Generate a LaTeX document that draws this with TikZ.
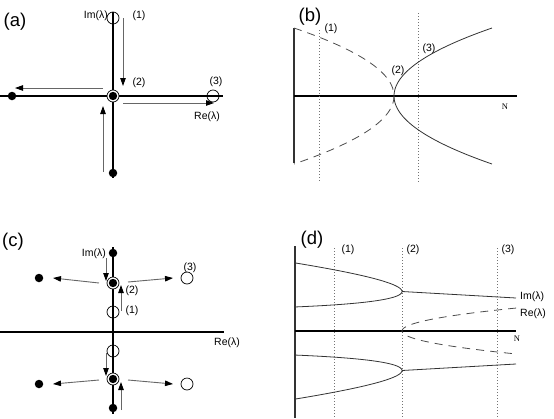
\documentclass[tikz,border=0pt]{standalone}
\usepackage{fontspec}
\setmainfont{Liberation Sans}
\newfontfamily\serifN{Liberation Serif}
\usetikzlibrary{arrows.meta}
\begin{document}
\begin{tikzpicture}[x=1pt,y=-1pt,
  axis/.style={line width=1.8pt,black},
  thinaxis/.style={line width=1.2pt,black!80},
  mv/.style={draw=black!60,line width=0.9pt,-{Triangle[length=8pt,width=5.5pt,color=black]}},
  hollow/.style={circle,draw,line width=0.7pt,minimum size=12pt,inner sep=0pt},
  full/.style={circle,fill=black,minimum size=8.5pt,inner sep=0pt},
  dbl/.style={circle,draw,line width=0.7pt,fill=white,minimum size=12pt,inner sep=0pt,
    path picture={\fill[black] (path picture bounding box.center) circle (4.2pt);}},
  curve/.style={line width=0.8pt,black!80},
  dashcurve/.style={curve,black!70,dash pattern=on 8pt off 6pt},
  guide/.style={black!55,line width=0.7pt,dash pattern=on 0.7pt off 2.3pt},
  lab/.style={font=\fontsize{10.5}{12}\selectfont,inner sep=0pt},
  big/.style={font=\fontsize{18.5}{20}\selectfont,inner sep=0pt},
  nlab/.style={font=\serifN\fontsize{8.5}{9}\selectfont,inner sep=0pt}
]
\useasboundingbox (0,0) rectangle (554,418);

% ---------------- (a)
\draw[axis] (0,96) -- (223,96);
\draw[axis] (113,12) -- (113,178);
\node[hollow] (a1) at (113,18) {};
\node[dbl] (a2) at (113,96) {};
\node[hollow] (a3) at (213,96) {};
\node[full] (a4) at (12,96) {};
\node[full] (a5) at (113,173) {};
\coordinate (a1s) at (123,18); \coordinate (a1e) at (123,86);
\coordinate (a2s) at (103,88); \coordinate (a2e) at (15,88);
\coordinate (a3s) at (123,103); \coordinate (a3e) at (214,103);
\coordinate (a4s) at (103,172); \coordinate (a4e) at (103,106);
\draw[mv] (a1s) -- (a1e);
\draw[mv] (a2s) -- (a2e);
\draw[mv] (a3s) -- (a3e);
\draw[mv] (a4s) -- (a4e);
\node[big] (la) at (15,22) {(a)};
\node[lab,anchor=east] (laim) at (108,16) {Im(λ)};
\node[lab] (la1) at (139,16) {(1)};
\node[lab] (la2) at (139,83) {(2)};
\node[lab] (la3) at (216,82) {(3)};
\node[lab] (lare) at (207,117) {Re(λ)};

% ---------------- (b)
\draw[thinaxis] (294,28) -- (294,163);
\draw[axis] (294,96) -- (517,96);
\draw[guide] (319,30) -- (319,182);
\draw[guide] (418,13) -- (418,182);
\draw[dashcurve] plot[domain=-68:68,samples=60] ({394-(\x)*(\x)/46.24},{96+\x});
\draw[curve] plot[domain=-68:68,samples=60] ({394+(\x)*(\x)/47.2},{96+\x});
\node[big] (lb) at (310,17) {(b)};
\node[lab] (lb1) at (331,29) {(1)};
\node[lab] (lb2) at (398,71) {(2)};
\node[lab] (lb3) at (429,49) {(3)};
\node[nlab] (lbn) at (505,107) {N};

% ---------------- (c)
\draw[axis] (0,332) -- (224,332);
\draw[axis] (113,247) -- (113,414);
\node[full] (c1) at (113,253) {};
\node[dbl] (c2) at (113,283) {};
\node[hollow] (c3) at (113,312) {};
\node[hollow] (c4) at (113,351) {};
\node[dbl] (c5) at (113,379) {};
\node[full] (c6) at (113,408) {};
\node[full] (c7) at (39,278) {};
\node[hollow] (c8) at (187,278) {};
\node[full] (c9) at (39,384) {};
\node[hollow] (c10) at (187,384) {};
\coordinate (c1s) at (106,258); \coordinate (c1e) at (106,281);
\coordinate (c2s) at (121,311); \coordinate (c2e) at (121,285);
\coordinate (c3s) at (99,283);  \coordinate (c3e) at (53,278);
\coordinate (c4s) at (128,282); \coordinate (c4e) at (173,278);
\coordinate (c5s) at (106,353); \coordinate (c5e) at (106,376);
\coordinate (c6s) at (121,410); \coordinate (c6e) at (121,382);
\coordinate (c7s) at (99,380);  \coordinate (c7e) at (53,384);
\coordinate (c8s) at (128,380); \coordinate (c8e) at (173,384);
\foreach \i in {1,...,8} {\draw[mv] (c\i s) -- (c\i e);}
\node[big] (lc) at (13,242) {(c)};
\node[lab,anchor=east] (lcim) at (106,254) {Im(λ)};
\node[lab] (lc3) at (190,268) {(3)};
\node[lab] (lc2) at (132,291) {(2)};
\node[lab] (lc1) at (132,311) {(1)};
\node[lab] (lcre) at (227,343) {Re(λ)};

% ---------------- (d)
\draw[thinaxis] (295,246) -- (295,418);
\draw[axis] (295,331) -- (516,331);
\draw[guide] (334,248) -- (334,418);
\draw[guide] (402,248) -- (402,418);
\draw[guide] (497,248) -- (497,418);
\draw[curve] plot[domain=-10.34:10.34,samples=60] ({402-(\x)*(\x)},{291.5-0.0614*(\x)*(\x)+2.13*(\x)});
\draw[curve] (402,291.5) -- (516,298);
\draw[curve] plot[domain=-10.34:10.34,samples=60] ({402-(\x)*(\x)},{370.5+0.0614*(\x)*(\x)+2.13*(\x)});
\draw[curve] (402,370.5) -- (516,364);
\draw[dashcurve] plot[domain=-10.68:10.68,samples=60] ({402+(\x)*(\x)},{331+2.15*(\x)});
\node[big] (ld) at (312,240) {(d)};
\node[lab] (ld1) at (348,250) {(1)};
\node[lab] (ld2) at (413,250) {(2)};
\node[lab] (ld3) at (508,250) {(3)};
\node[lab,anchor=west] (ldim) at (520,297) {Im(λ)};
\node[lab,anchor=west] (ldre) at (520,314) {Re(λ)};
\node[nlab] (ldn) at (517,339) {N};
\end{tikzpicture}
\end{document}
